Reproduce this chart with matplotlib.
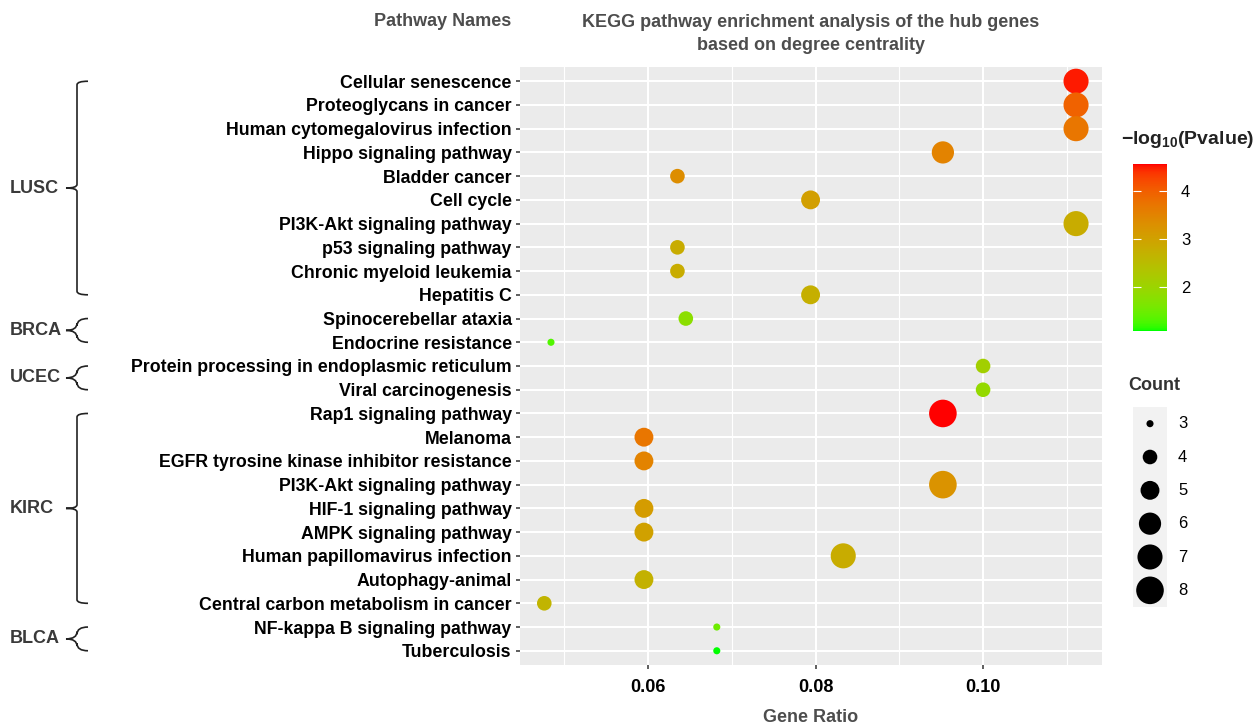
import numpy as np
import matplotlib
matplotlib.use("Agg")
import matplotlib.pyplot as plt
import matplotlib.colors as mcolors
import matplotlib.transforms as mtransforms
from matplotlib.path import Path
from matplotlib.patches import PathPatch

plt.rcParams['font.family'] = ['Liberation Sans', 'DejaVu Sans']
plt.rcParams['mathtext.fontset'] = 'custom'
plt.rcParams['mathtext.rm'] = 'Liberation Sans'
plt.rcParams['mathtext.bf'] = 'Liberation Sans:bold'

# data (top to bottom)
pathways = ["Cellular senescence", "Proteoglycans in cancer", "Human cytomegalovirus infection",
            "Hippo signaling pathway", "Bladder cancer", "Cell cycle", "PI3K-Akt signaling pathway",
            "p53 signaling pathway", "Chronic myeloid leukemia", "Hepatitis C",
            "Spinocerebellar ataxia", "Endocrine resistance",
            "Protein processing in endoplasmic reticulum", "Viral carcinogenesis",
            "Rap1 signaling pathway", "Melanoma", "EGFR tyrosine kinase inhibitor resistance",
            "PI3K-Akt signaling pathway", "HIF-1 signaling pathway", "AMPK signaling pathway",
            "Human papillomavirus infection", "Autophagy-animal", "Central carbon metabolism in cancer",
            "NF-kappa B signaling pathway", "Tuberculosis"]
gene_ratio = [0.1111, 0.1111, 0.1111, 0.0952, 0.0635, 0.0794, 0.1111, 0.0635, 0.0635, 0.0794,
              0.0645, 0.0484, 0.1000, 0.1000,
              0.0952, 0.0595, 0.0595, 0.0952, 0.0595, 0.0595, 0.0833, 0.0595, 0.0476,
              0.0682, 0.0682]
counts = [7, 7, 7, 6, 4, 5, 7, 4, 4, 5,
          4, 3, 4, 4,
          8, 5, 5, 8, 5, 5, 7, 5, 4,
          3, 3]
neglog_p = [4.5, 3.95, 3.7, 3.5, 3.35, 3.05, 2.8, 2.8, 2.8, 2.75,
            1.8, 1.3, 2.1, 1.9,
            4.56, 3.7, 3.5, 3.25, 3.1, 3.0, 2.8, 2.7, 2.65,
            1.5, 1.08]
groups = ["LUSC", "BRCA", "UCEC", "KIRC", "BLCA"]
group_start = [0, 10, 12, 14, 23]
group_end = [9, 11, 13, 22, 24]
count_levels = [3, 4, 5, 6, 7, 8]
cbar_ticks = [2, 3, 4]


# green -> red gradient interpolated in Lab space (like ggplot2)
def rgb2lab(rgb):
    c = np.where(rgb <= 0.04045, rgb / 12.92, ((rgb + 0.055) / 1.055) ** 2.4)
    M = np.array([[0.4124, 0.3576, 0.1805], [0.2126, 0.7152, 0.0722], [0.0193, 0.1192, 0.9505]])
    xyz = M @ c / np.array([0.95047, 1.0, 1.08883])
    f = np.where(xyz > 0.008856, np.cbrt(xyz), 7.787 * xyz + 16 / 116)
    return np.array([116 * f[1] - 16, 500 * (f[0] - f[1]), 200 * (f[1] - f[2])])


def lab2rgb(lab):
    fy = (lab[0] + 16) / 116
    fx = fy + lab[1] / 500
    fz = fy - lab[2] / 200
    f = np.array([fx, fy, fz])
    xyz = np.where(f ** 3 > 0.008856, f ** 3, (f - 16 / 116) / 7.787) * np.array([0.95047, 1.0, 1.08883])
    Minv = np.array([[3.2406, -1.5372, -0.4986], [-0.9689, 1.8758, 0.0415], [0.0557, -0.2040, 1.0570]])
    c = np.clip(Minv @ xyz, 0, 1)
    rgb = np.where(c <= 0.0031308, 12.92 * c, 1.055 * c ** (1 / 2.4) - 0.055)
    return np.clip(rgb, 0, 1)


lab_lo = rgb2lab(np.array([0.0, 1.0, 0.0]))
lab_hi = rgb2lab(np.array([1.0, 0.0, 0.0]))
cols = [lab2rgb(lab_lo + t * (lab_hi - lab_lo)) for t in np.linspace(0, 1, 256)]
cmap = mcolors.ListedColormap(cols)
norm = mcolors.Normalize(vmin=min(neglog_p), vmax=max(neglog_p))


def dot_size(c):
    d_px = 4.1 * np.sqrt(1 + 35 * (np.asarray(c) - 3) / 5) + 3
    return (d_px * 0.72) ** 2


W, H = 1258, 728
fig = plt.figure(figsize=(W / 100, H / 100), dpi=100)
ax = fig.add_axes([520 / W, 1 - 665 / H, 582 / W, 598 / H])
ax.set_facecolor('#EBEBEB')
for s in ax.spines.values():
    s.set_visible(False)

y = np.arange(len(pathways))
ax.scatter(gene_ratio, y, s=dot_size(counts), c=neglog_p, cmap=cmap, norm=norm,
           edgecolors='none', zorder=3)

ax.set_xlim(0.0447, 0.1142)
ax.set_ylim(len(pathways) - 0.4, -0.6)
ax.set_yticks(y)
ax.set_yticklabels(pathways, fontsize=12.8, fontweight='bold', color='black')
ax.set_xticks([0.06, 0.08, 0.10])
ax.set_xticklabels(['0.06', '0.08', '0.10'], fontsize=13, fontweight='bold', color='black')
ax.set_xticks([0.05, 0.07, 0.09, 0.11], minor=True)
ax.tick_params(axis='both', which='major', length=3, width=1.1, color='#333333', pad=3)
ax.tick_params(axis='x', which='major', pad=7)
ax.tick_params(axis='x', which='minor', length=0)
ax.grid(which='major', color='white', linewidth=1.5, zorder=0)
ax.grid(which='minor', axis='x', color='white', linewidth=0.8, zorder=0)
ax.set_axisbelow(True)

grey = '#4D4D4D'
fig.text(443 / W, 1 - 22 / H, 'Pathway Names', ha='center', va='center',
         fontsize=13, fontweight='bold', color=grey)
fig.text(811 / W, 1 - 34 / H, 'KEGG pathway enrichment analysis of the hub genes\nbased on degree centrality',
         ha='center', va='center', fontsize=13, fontweight='bold', color=grey, linespacing=1.45)
fig.text(811 / W, 1 - 718 / H, 'Gene Ratio', ha='center', va='center',
         fontsize=13, fontweight='bold', color=grey)

# group brackets on the left
trans = mtransforms.blended_transform_factory(fig.transFigure, ax.transData)
x0, x1, xn = 77 / W, 88 / W, 66 / W
for g, a, b in zip(groups, group_start, group_end):
    top, bot = a, b
    mid = (top + bot) / 2
    r = 0.3 if b - a <= 1 else 0.15
    verts = [(x1, top), (x0, top), (x0, top + r), (x0, mid - r), (x0, mid), (xn, mid),
             (x0, mid), (x0, mid + r), (x0, bot - r), (x0, bot), (x1, bot)]
    codes = [Path.MOVETO, Path.CURVE3, Path.CURVE3, Path.LINETO, Path.CURVE3, Path.CURVE3,
             Path.CURVE3, Path.CURVE3, Path.LINETO, Path.CURVE3, Path.CURVE3]
    patch = PathPatch(Path(verts, codes), transform=trans, fill=False, lw=1.2,
                      edgecolor='#222222', clip_on=False)
    fig.add_artist(patch)
    fig.text(10 / W, mid, g, transform=trans, ha='left', va='center',
             fontsize=13, fontweight='bold', color='#3A3A3A')

# colour bar legend
cax = fig.add_axes([1133 / W, 1 - 331 / H, 34 / W, 167 / H])
cb = fig.colorbar(plt.cm.ScalarMappable(norm=norm, cmap=cmap), cax=cax, ticks=cbar_ticks)
cb.outline.set_visible(False)
cax.tick_params(axis='y', direction='in', length=6, width=0.8, color='white',
                left=True, right=True, labelsize=12, labelcolor='black', pad=10)
fig.text(1121 / W, 1 - 139 / H, r'$\mathbf{-log_{10}}$(Pvalue)', ha='left', va='center',
         fontsize=14, fontweight='bold', color='#222222')

# count legend
lax = fig.add_axes([1133 / W, 1 - 607 / H, 34 / W, 200 / H])
lax.set_facecolor('#F2F2F2')
for s in lax.spines.values():
    s.set_visible(False)
lax.scatter([0] * len(count_levels), count_levels, s=dot_size(count_levels), color='black',
            edgecolors='none')
lax.set_xlim(-1, 1)
lax.set_ylim(max(count_levels) + 0.5, min(count_levels) - 0.5)
lax.set_xticks([])
lax.set_yticks([])
for c in count_levels:
    lax.text(1.65, c, str(c), ha='left', va='center', fontsize=12, color='black', clip_on=False)
fig.text(1128 / W, 1 - 385 / H, 'Count', ha='left', va='center',
         fontsize=13, fontweight='bold', color='#333333')

fig.savefig('out.png', dpi=100)
